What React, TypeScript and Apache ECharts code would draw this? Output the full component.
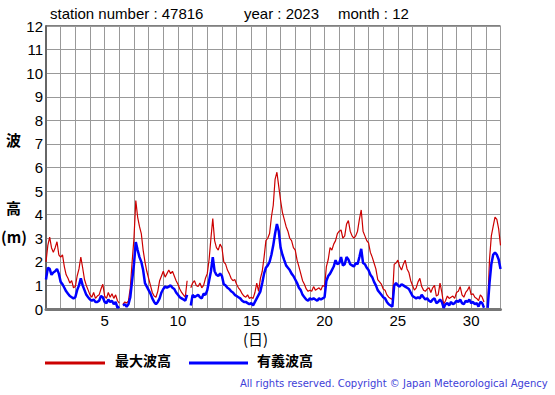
import React, { useEffect, useRef } from "react";
import * as echarts from "echarts";

// 3-hourly samples starting at day 1.0 (8 per day), last point = day 32.0
const START_DAY = 1;
const STEPS_PER_DAY = 8;

const maxWave: (number | null)[] = [
  // day 1
  2.0, 2.7, 3.05, 2.6, 2.4, 2.6, 2.85, 2.3,
  // day 2
  2.2, 2.3, 1.8, 1.45, 1.3, 1.1, 1.2, 0.9,
  // day 3
  0.95, 1.4, 1.7, 2.2, 1.75, 1.25, 1.0, 0.8,
  // day 4
  0.6, 0.5, 0.7, 0.45, 0.55, 0.6, 0.85, 1.05,
  // day 5
  0.55, 0.45, 0.7, 0.5, 0.65, 0.45, 0.6, 0.35,
  // day 6
  0.25, null, 0.2, 0.3, 0.25, 0.35, 0.9, 2.0,
  // day 7
  3.0, 4.6, 3.9, 3.5, 3.2, 2.5, 2.0, 1.6,
  // day 8
  1.3, 1.0, 0.7, 0.55, 0.5, 0.75, 1.2, 1.4,
  // day 9
  1.6, 1.35, 1.5, 1.65, 1.5, 1.6, 1.4, 1.2,
  // day 10
  1.05, 0.85, 0.7, 0.6, 0.5, 1.2, null, 0.9,
  // day 11
  1.1, 1.2, 1.0, 0.95, 1.1, 0.9, 1.0, 1.3,
  // day 12
  1.5, 2.1, 3.0, 3.84, 2.9, 2.6, 2.5, 2.75,
  // day 13
  2.6, 2.0, 1.9, 1.65, 1.5, 1.3, 1.2, 1.25,
  // day 14
  1.05, 0.9, 0.8, 0.65, 0.55, 0.5, 0.6, 0.45,
  // day 15
  0.5, 0.45, 0.7, 1.1, 0.75, 1.3, 1.6, 2.2,
  // day 16
  2.9, 3.0, 3.2, 3.9, 4.4, 5.5, 5.8, 5.2,
  // day 17
  4.6, 4.1, 3.8, 3.5, 3.3, 3.0, 2.9, 2.6,
  // day 18
  2.5, 2.07, 1.8, 1.5, 1.2, 1.05, 0.85, 0.75,
  // day 19
  0.8, 0.75, 0.95, 0.8, 0.85, 0.9, 0.8, 1.0,
  // day 20
  0.95, 1.8, 2.1, 2.6, 2.5, 2.75, 2.9, 3.2,
  // day 21
  3.3, 3.35, 3.0, 3.1, 3.6, 3.75, 3.3, 3.1,
  // day 22
  3.0, 3.1, 3.3, 3.8, 4.2, 3.3, 3.1, 2.9,
  // day 23
  2.8, 2.4, 2.2, 1.95, 1.7, 1.25, 1.15, 1.05,
  // day 24
  0.85, 0.8, 0.6, 0.5, 0.45, 0.4, 1.9, 1.95,
  // day 25
  2.07, 1.8, 1.65, 1.9, 2.07, 1.7, 1.55, 1.2,
  // day 26
  1.0, 0.8, 0.9, 1.15, 1.3, 0.95, 0.8, 0.75,
  // day 27
  0.85, 0.9, 0.7, 0.9, 1.0, 0.55, 0.6, 1.1,
  // day 28
  0.7, 0.2, 0.35, 0.55, 0.45, 0.5, 0.55, 0.45,
  // day 29
  0.7, 0.75, 0.95, 0.6, 0.5, 0.7, 0.8, 0.95,
  // day 30
  0.6, 0.65, 0.5, 0.45, 0.35, 0.6, 0.5, 0.3,
  // day 31
  null, 0.1, 2.1, 3.1, 3.5, 3.9, 3.8, 3.4,
  // day 32.0
  2.7,
];

const sigWave: (number | null)[] = [
  // day 1
  1.25, 1.75, 1.7, 1.45, 1.55, 1.6, 1.7, 1.5,
  // day 2
  1.15, 1.05, 0.9, 0.75, 0.65, 0.55, 0.5, 0.45,
  // day 3
  0.5, 0.8, 1.0, 1.3, 1.0, 0.8, 0.6, 0.5,
  // day 4
  0.4, 0.35, 0.4, 0.3, 0.3, 0.35, 0.55, 0.5,
  // day 5
  0.3, 0.25, 0.4, 0.3, 0.35, 0.2, 0.3, 0.05,
  // day 6
  0.1, null, 0.15, 0.2, 0.1, 0.2, 0.5, 1.2,
  // day 7
  1.9, 2.84, 2.5, 2.2, 2.0, 1.65, 1.1, 0.95,
  // day 8
  0.8, 0.65, 0.45, 0.3, 0.2, 0.3, 0.45, 0.7,
  // day 9
  0.85, 0.95, 0.9, 0.95, 1.0, 0.9, 0.85, 0.7,
  // day 10
  0.6, 0.5, 0.45, 0.4, 0.35, 0.6, null, 0.15,
  // day 11
  0.6, 0.5, 0.55, 0.6, 0.5, 0.45, 0.65, 0.6,
  // day 12
  0.8, 1.2, 1.6, 2.2, 1.6, 1.45, 1.4, 1.5,
  // day 13
  1.4, 1.05, 1.0, 0.9, 0.85, 0.75, 0.7, 0.6,
  // day 14
  0.55, 0.5, 0.45, 0.35, 0.3, 0.3, 0.25, 0.2,
  // day 15
  0.25, 0.15, 0.3, 0.45, 0.6, 0.75, 1.1, 1.5,
  // day 16
  1.75, 1.85, 2.0, 2.3, 2.7, 3.2, 3.6, 3.3,
  // day 17
  2.6, 2.3, 2.07, 1.85, 1.75, 1.65, 1.5, 1.4,
  // day 18
  1.25, 1.1, 0.9, 0.8, 0.6, 0.5, 0.4, 0.35,
  // day 19
  0.45, 0.4, 0.45, 0.4, 0.35, 0.45, 0.4, 0.45,
  // day 20
  0.5, 1.2, 1.4, 1.5, 1.65, 1.8, 2.07, 1.9,
  // day 21
  1.95, 2.2, 1.85, 1.9, 2.2, 2.1, 1.9, 1.85,
  // day 22
  1.8, 1.95, 1.9, 2.2, 2.55, 1.95, 1.9, 1.75,
  // day 23
  1.65, 1.45, 1.35, 1.15, 1.0, 0.8, 0.7, 0.6,
  // day 24
  0.5, 0.45, 0.3, 0.2, 0.15, 0.1, 1.0, 1.1,
  // day 25
  1.0, 0.95, 1.05, 1.0, 0.95, 0.9, 0.85, 0.7,
  // day 26
  0.55, 0.5, 0.45, 0.5, 0.45, 0.6, 0.5, 0.4,
  // day 27
  0.45, 0.35, 0.3, 0.4, 0.45, 0.25, 0.3, 0.4,
  // day 28
  0.3, 0.05, 0.2, 0.25, 0.15, 0.3, 0.2, 0.25,
  // day 29
  0.35, 0.3, 0.4, 0.25, 0.2, 0.35, 0.3, 0.4,
  // day 30
  0.25, 0.3, 0.2, 0.25, 0.1, 0.3, 0.25, 0.05,
  // day 31
  null, 0.05, 1.1, 1.9, 2.3, 2.4, 2.3, 2.1,
  // day 32.0
  1.7,
];

const xLabelDays = [5, 10, 15, 20, 25, 30];
const seriesNames = ["最大波高", "有義波高"];
const titleParts = ["station number : 47816", "year : 2023", "month : 12"];
const copyright = "All rights reserved. Copyright © Japan Meteorological Agency";

const toPairs = (arr: (number | null)[]) =>
  arr.map((v, i) => [START_DAY + i / STEPS_PER_DAY, v]);

export default function App() {
  const ref = useRef<HTMLDivElement>(null);
  useEffect(() => {
    if (!ref.current) return;
    const chart = echarts.init(ref.current, null, { renderer: "svg" });
    const font = "'Liberation Sans', Arial, sans-serif";
    const cjk = "'Noto Sans CJK JP', sans-serif";
    chart.setOption({
      animation: false,
      backgroundColor: "#fff",
      grid: {
        left: 46,
        right: 54.5,
        top: 26,
        bottom: 86,
        show: true,
        borderColor: "#000",
        borderWidth: 1,
        backgroundColor: "transparent",
      },
      xAxis: {
        type: "value",
        min: 1,
        max: 32,
        interval: 1,
        axisLine: { show: true, onZero: false, lineStyle: { color: "#777", width: 3 } },
        axisTick: { show: false },
        splitLine: { show: true, lineStyle: { color: "#999", width: 1 } },
        axisLabel: {
          color: "#000",
          fontSize: 15,
          fontFamily: font,
          margin: 4,
          showMinLabel: true,
          showMaxLabel: true,
          formatter: (v: number) => (xLabelDays.includes(v) ? String(v) : ""),
        },
      },
      yAxis: {
        type: "value",
        min: 0,
        max: 12,
        interval: 1,
        axisLine: { show: true, lineStyle: { color: "#666", width: 2 } },
        axisTick: { show: false },
        splitLine: { show: true, lineStyle: { color: "#999", width: 1 } },
        axisLabel: { color: "#000", fontSize: 15, fontFamily: font, margin: 3 },
      },
      series: [
        {
          name: seriesNames[0],
          type: "line",
          data: toPairs(maxWave),
          showSymbol: false,
          connectNulls: false,
          lineStyle: { color: "#cc0000", width: 1.2 },
          itemStyle: { color: "#cc0000" },
          z: 2,
        },
        {
          name: seriesNames[1],
          type: "line",
          data: toPairs(sigWave),
          showSymbol: false,
          connectNulls: false,
          lineStyle: { color: "#0000ff", width: 2.5 },
          itemStyle: { color: "#0000ff" },
          z: 3,
        },
      ],
      graphic: [
        { type: "text", left: 50, top: 6, style: { text: titleParts[0], font: `15px ${font}`, fill: "#000" } },
        { type: "text", left: 244, top: 6, style: { text: titleParts[1], font: `15px ${font}`, fill: "#000" } },
        { type: "text", left: 338, top: 6, style: { text: titleParts[2], font: `15px ${font}`, fill: "#000" } },
        { type: "text", left: 6, top: 132, style: { text: "波", font: `bold 15px ${cjk}`, fill: "#000" } },
        { type: "text", left: 6, top: 200, style: { text: "高", font: `bold 15px ${cjk}`, fill: "#000" } },
        { type: "text", left: 1, top: 229, style: { text: "(m)", font: `bold 15px ${cjk}`, fill: "#000" } },
        { type: "text", left: 243, top: 331, style: { text: "(日)", font: `15px ${cjk}`, lineHeight: 15, fill: "#000" } },
        { type: "rect", shape: { x: 45, y: 361.5, width: 60, height: 3 }, style: { fill: "#cc0000" } },
        { type: "text", left: 115, top: 353, style: { text: seriesNames[0], font: `bold 14px ${cjk}`, fill: "#000" } },
        { type: "rect", shape: { x: 189, y: 361.5, width: 59, height: 3 }, style: { fill: "#0000ff" } },
        { type: "text", left: 257, top: 353, style: { text: seriesNames[1], font: `bold 14px ${cjk}`, fill: "#000" } },
        { type: "text", left: 240, top: 378, style: { text: copyright, font: `10px 'DejaVu Sans', sans-serif`, fill: "#4040d8" } },
      ],
    });
    return () => chart.dispose();
  }, []);
  return <div ref={ref} style={{ width: 555, height: 395, position: "absolute", left: 0, top: 0 }} />;
}
